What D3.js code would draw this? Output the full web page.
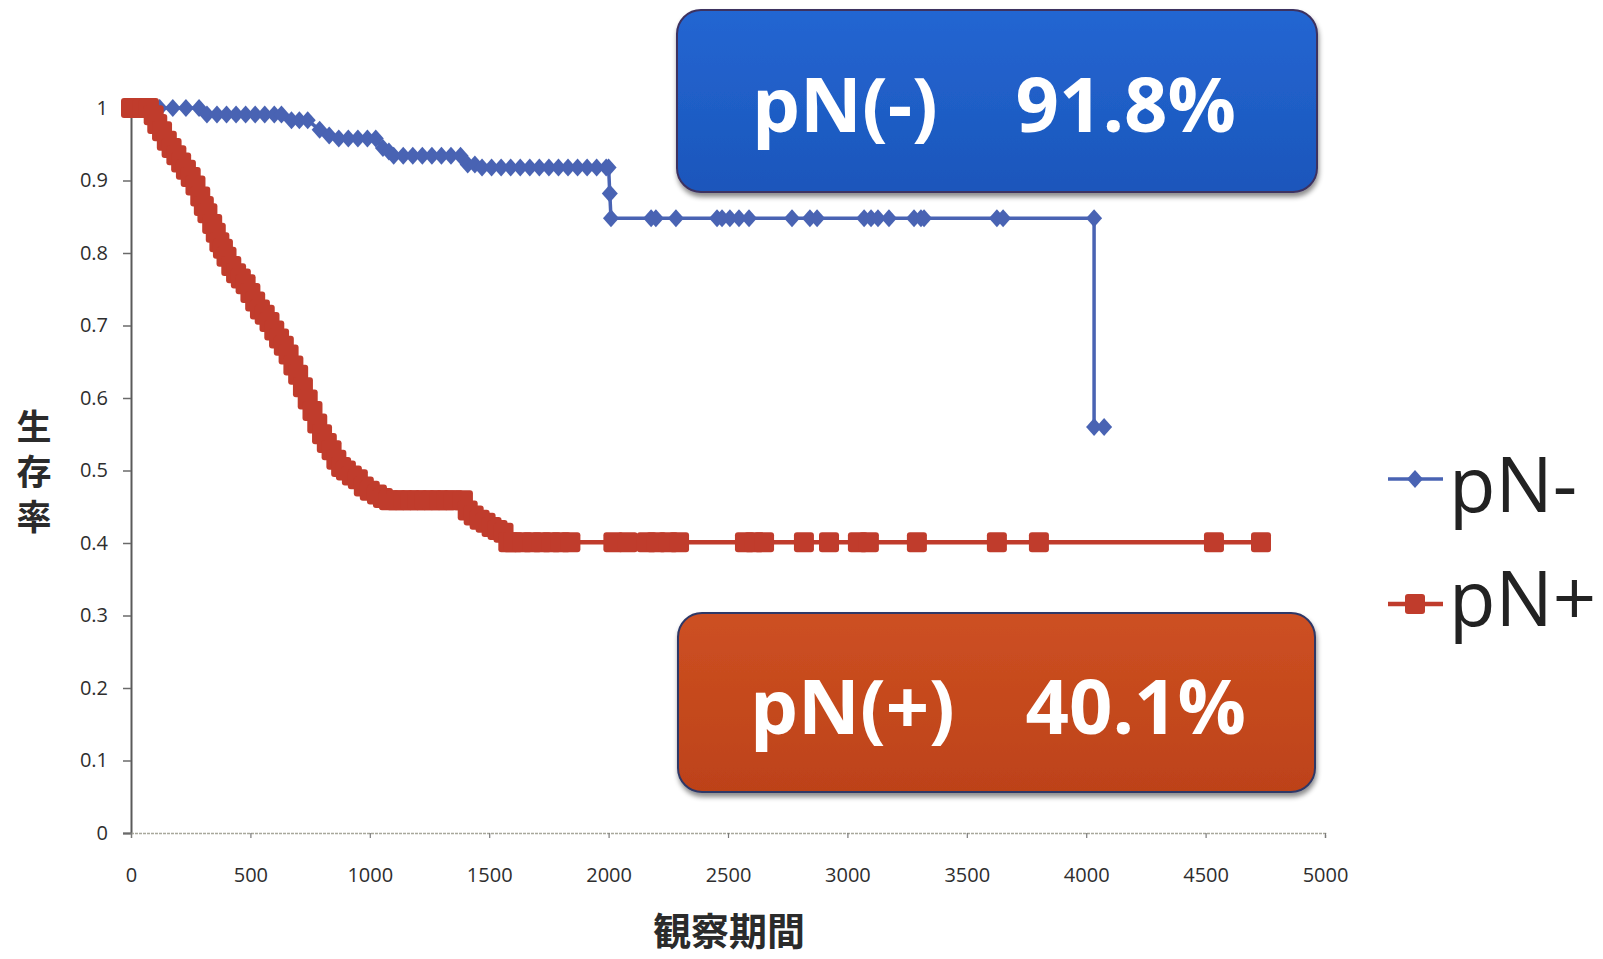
<!DOCTYPE html>
<html>
<head>
<meta charset="utf-8">
<script src="https://cdn.jsdelivr.net/npm/d3@7"></script>
<style>
  html, body { margin: 0; padding: 0; background: #ffffff; }
  svg { display: block; }
</style>
</head>
<body>
<svg id="chart" width="1603" height="959"></svg>
<script>
// ---- data -------------------------------------------------------------
const seriesNames = ["pN-", "pN+"];

const xTicks = [0, 500, 1000, 1500, 2000, 2500, 3000, 3500, 4000, 4500, 5000];
const xTickLabels = ["0", "500", "1000", "1500", "2000", "2500", "3000", "3500", "4000", "4500", "5000"];
const yTicks = [0, 0.1, 0.2, 0.3, 0.4, 0.5, 0.6, 0.7, 0.8, 0.9, 1];
const yTickLabels = ["0", "0.1", "0.2", "0.3", "0.4", "0.5", "0.6", "0.7", "0.8", "0.9", "1"];

const xTitle = "観察期間";
const yTitle = "生存率";

// [days, survival] for node-negative cases
const pNnegCurve = [
  [0, 1], [60, 1], [120, 1], [175, 1], [230, 1], [285, 1],
  [318, 0.991], [360, 0.991], [400, 0.991], [440, 0.991], [480, 0.991], [520, 0.991],
  [560, 0.991], [600, 0.991], [630, 0.991],
  [672, 0.983], [705, 0.983], [740, 0.983],
  [790, 0.970], [830, 0.962],
  [870, 0.958], [910, 0.958], [950, 0.958], [990, 0.958], [1025, 0.958],
  [1055, 0.945], [1080, 0.940],
  [1100, 0.934], [1140, 0.934], [1180, 0.934], [1220, 0.934], [1260, 0.934],
  [1300, 0.934], [1340, 0.934], [1380, 0.934],
  [1410, 0.922], [1440, 0.922],
  [1470, 0.918], [1510, 0.918], [1550, 0.918], [1590, 0.918], [1630, 0.918],
  [1670, 0.918], [1710, 0.918], [1750, 0.918], [1790, 0.918], [1830, 0.918],
  [1870, 0.918], [1910, 0.918], [1950, 0.918], [1990, 0.918], [2000, 0.918],
  [2005, 0.882], [2010, 0.848],
  [2178, 0.848], [2198, 0.848], [2282, 0.848], [2454, 0.848], [2475, 0.848],
  [2508, 0.848], [2546, 0.848], [2588, 0.848], [2768, 0.848], [2843, 0.848],
  [2873, 0.848], [3070, 0.848], [3099, 0.848], [3128, 0.848], [3174, 0.848],
  [3279, 0.848], [3308, 0.848], [3321, 0.848], [3626, 0.848], [3652, 0.848],
  [4033, 0.848], [4033, 0.560], [4075, 0.560]
];

// [days, survival] for node-positive cases
const pNposCurve = [
  [0, 1], [25, 1], [50, 1], [75, 1], [95, 0.990], [110, 0.978], [130, 0.968],
  [150, 0.955], [170, 0.945], [190, 0.935], [210, 0.925], [230, 0.915], [250, 0.905],
  [270, 0.893], [290, 0.878], [305, 0.865], [320, 0.855], [340, 0.840], [355, 0.828],
  [370, 0.815], [385, 0.806], [400, 0.795], [420, 0.782], [440, 0.772], [460, 0.765],
  [480, 0.757], [500, 0.745], [520, 0.733], [540, 0.722], [560, 0.715], [580, 0.705],
  [600, 0.693], [620, 0.682], [640, 0.672], [660, 0.660], [680, 0.645], [700, 0.632],
  [720, 0.615], [740, 0.598], [760, 0.582], [780, 0.565], [800, 0.550], [820, 0.538],
  [840, 0.528], [860, 0.515], [880, 0.505], [900, 0.500], [925, 0.493], [950, 0.488],
  [975, 0.478], [1000, 0.472], [1030, 0.467], [1055, 0.462], [1080, 0.459],
  [1110, 0.459], [1140, 0.459], [1170, 0.459], [1200, 0.459], [1230, 0.459],
  [1260, 0.459], [1290, 0.459], [1320, 0.459], [1350, 0.459], [1390, 0.459],
  [1410, 0.445], [1435, 0.438], [1460, 0.432], [1485, 0.428], [1510, 0.422],
  [1535, 0.418], [1560, 0.414], [1580, 0.401], [1600, 0.401], [1640, 0.401],
  [1680, 0.401], [1720, 0.401], [1760, 0.401], [1800, 0.401], [1840, 0.401],
  [2020, 0.401], [2080, 0.401], [2160, 0.401], [2200, 0.401], [2250, 0.401],
  [2295, 0.401], [2571, 0.401], [2610, 0.401], [2651, 0.401], [2818, 0.401],
  [2923, 0.401], [3044, 0.401], [3090, 0.401], [3291, 0.401], [3626, 0.401],
  [3802, 0.401], [4535, 0.401], [4732, 0.401]
];

// five-year survival shown in the call-out boxes
const summaryLabels = ["pN(-)", "pN(+)"];
const summaryRates = [91.8, 40.1];

// ---- layout -----------------------------------------------------------
const svg = d3.select("#chart");
const colors = { neg: "#4963b3", pos: "#c03c2c" };
const tickFont = "'Open Sans', 'Noto Sans', sans-serif";
const cjkFont = "'Noto Sans CJK JP', 'Noto Sans CJK SC', sans-serif";

const x = d3.scaleLinear().domain([0, 5000]).range([131, 1325]);
const y = d3.scaleLinear().domain([0, 1]).range([833, 108]);

const defs = svg.append("defs");
const shadow = defs.append("filter").attr("id", "boxShadow")
  .attr("x", "-5%").attr("y", "-10%").attr("width", "110%").attr("height", "125%");
shadow.append("feDropShadow").attr("dx", 1).attr("dy", 4).attr("stdDeviation", 2.5)
  .attr("flood-color", "#000").attr("flood-opacity", 0.45);

function boxGradient(id, top, bottom) {
  const g = defs.append("linearGradient").attr("id", id)
    .attr("x1", 0).attr("y1", 0).attr("x2", 0).attr("y2", 1);
  g.append("stop").attr("offset", "0%").attr("stop-color", top);
  g.append("stop").attr("offset", "100%").attr("stop-color", bottom);
}
boxGradient("blueFill", "#2466d2", "#1b56bb");
boxGradient("redFill", "#cd5022", "#bd4219");

// ---- axes -------------------------------------------------------------
const yAxis = d3.axisLeft(y)
  .tickValues(yTicks)
  .tickFormat((d, i) => yTickLabels[i])
  .tickSize(8)
  .tickPadding(15);

const gy = svg.append("g").attr("transform", `translate(${x(0)},0)`).call(yAxis);
gy.select(".domain").attr("stroke", "#5a5a5a").attr("stroke-width", 2);
gy.selectAll(".tick line").attr("stroke", "#6a6a6a").attr("stroke-width", 1.5);
gy.selectAll(".tick text")
  .attr("fill", "#2e2e2e")
  .style("font-family", tickFont)
  .style("font-size", "20px");

const xAxis = d3.axisBottom(x)
  .tickValues(xTicks)
  .tickFormat((d, i) => xTickLabels[i])
  .tickSize(5)
  .tickPadding(30);

const gx = svg.append("g").attr("transform", `translate(0,${y(0)})`).call(xAxis);
gx.select(".domain").attr("stroke", "#a8a89c").attr("stroke-width", 1.5)
  .attr("stroke-dasharray", "3 1");
gx.selectAll(".tick line").attr("stroke", "#7a7a7a").attr("stroke-width", 1.2);
gx.selectAll(".tick text")
  .attr("fill", "#2e2e2e")
  .style("font-family", tickFont)
  .style("font-size", "20px");

// axis titles
svg.append("text")
  .attr("x", 729).attr("y", 945)
  .attr("text-anchor", "middle")
  .attr("fill", "#2b2b2b")
  .style("font-family", cjkFont)
  .style("font-weight", 700)
  .style("font-size", "38px")
  .text(xTitle);

// vertical title set in upright vertical writing
svg.append("text")
  .attr("x", 34)
  .attr("y", 477)
  .attr("text-anchor", "middle")
  .attr("fill", "#2b2b2b")
  .style("writing-mode", "vertical-rl")
  .style("text-orientation", "upright")
  .style("letter-spacing", "10px")
  .style("font-family", cjkFont)
  .style("font-weight", 700)
  .style("font-size", "35px")
  .text(yTitle);

// ---- series -----------------------------------------------------------
const line = d3.line().x(d => x(d[0])).y(d => y(d[1]));

function diamondPath(cx, cy) {
  const w = 8, h = 9;
  return `M${cx},${cy - h}L${cx + w},${cy}L${cx},${cy + h}L${cx - w},${cy}Z`;
}

// node-negative: line with diamond markers
const gNeg = svg.append("g");
gNeg.append("path").datum(pNnegCurve)
  .attr("d", line)
  .attr("fill", "none")
  .attr("stroke", colors.neg)
  .attr("stroke-width", 3.5);
gNeg.selectAll("path.m").data(pNnegCurve).join("path")
  .attr("class", "m")
  .attr("d", d => diamondPath(x(d[0]), y(d[1])))
  .attr("fill", colors.neg);

// node-positive: line with square markers
const sq = 20;
const gPos = svg.append("g");
gPos.append("path").datum(pNposCurve)
  .attr("d", line)
  .attr("fill", "none")
  .attr("stroke", colors.pos)
  .attr("stroke-width", 4.5);
gPos.selectAll("rect").data(pNposCurve).join("rect")
  .attr("x", d => x(d[0]) - sq / 2)
  .attr("y", d => y(d[1]) - sq / 2)
  .attr("width", sq).attr("height", sq)
  .attr("rx", 3)
  .attr("fill", colors.pos);

// ---- legend -----------------------------------------------------------
const legendRows = [
  { name: seriesNames[0], color: colors.neg, cy: 479, textY: 512, marker: "diamond", lw: 3.5 },
  { name: seriesNames[1], color: colors.pos, cy: 604, textY: 626, marker: "square", lw: 4.5 }
];
const lg = svg.append("g");
legendRows.forEach(r => {
  lg.append("line")
    .attr("x1", 1388).attr("x2", 1443)
    .attr("y1", r.cy).attr("y2", r.cy)
    .attr("stroke", r.color).attr("stroke-width", r.lw);
  if (r.marker === "diamond") {
    lg.append("path").attr("d", diamondPath(1415, r.cy)).attr("fill", r.color);
  } else {
    lg.append("rect").attr("x", 1415 - sq / 2).attr("y", r.cy - sq / 2)
      .attr("width", sq).attr("height", sq).attr("rx", 3).attr("fill", r.color);
  }
  lg.append("text")
    .attr("x", 1449).attr("y", r.textY)
    .attr("fill", "#222")
    .style("font-family", tickFont)
    .style("font-size", "76px")
    .text(r.name);
});

// ---- call-out boxes ---------------------------------------------------
const boxes = [
  { x: 677, y: 10, w: 640, h: 182, fill: "url(#blueFill)", stroke: "#3d3160",
    label: summaryLabels[0], rate: summaryRates[0], base: 132, lx: 752, rx: 1236 },
  { x: 678, y: 613, w: 637, h: 179, fill: "url(#redFill)", stroke: "#2f3766",
    label: summaryLabels[1], rate: summaryRates[1], base: 734, lx: 750, rx: 1246 }
];
boxes.forEach(b => {
  const g = svg.append("g");
  g.append("rect")
    .attr("x", b.x).attr("y", b.y).attr("width", b.w).attr("height", b.h)
    .attr("rx", 24).attr("ry", 24)
    .attr("fill", b.fill)
    .attr("stroke", b.stroke).attr("stroke-width", 2)
    .attr("filter", "url(#boxShadow)");
  g.append("text")
    .attr("x", b.lx).attr("y", b.base)
    .attr("fill", "#ffffff")
    .style("font-family", tickFont)
    .style("font-weight", 700)
    .style("font-size", "76px")
    .text(b.label);
  g.append("text")
    .attr("x", b.rx).attr("y", b.base)
    .attr("text-anchor", "end")
    .attr("fill", "#ffffff")
    .style("font-family", tickFont)
    .style("font-weight", 700)
    .style("font-size", "76px")
    .text(b.rate.toFixed(1) + "%");
});
</script>
</body>
</html>
